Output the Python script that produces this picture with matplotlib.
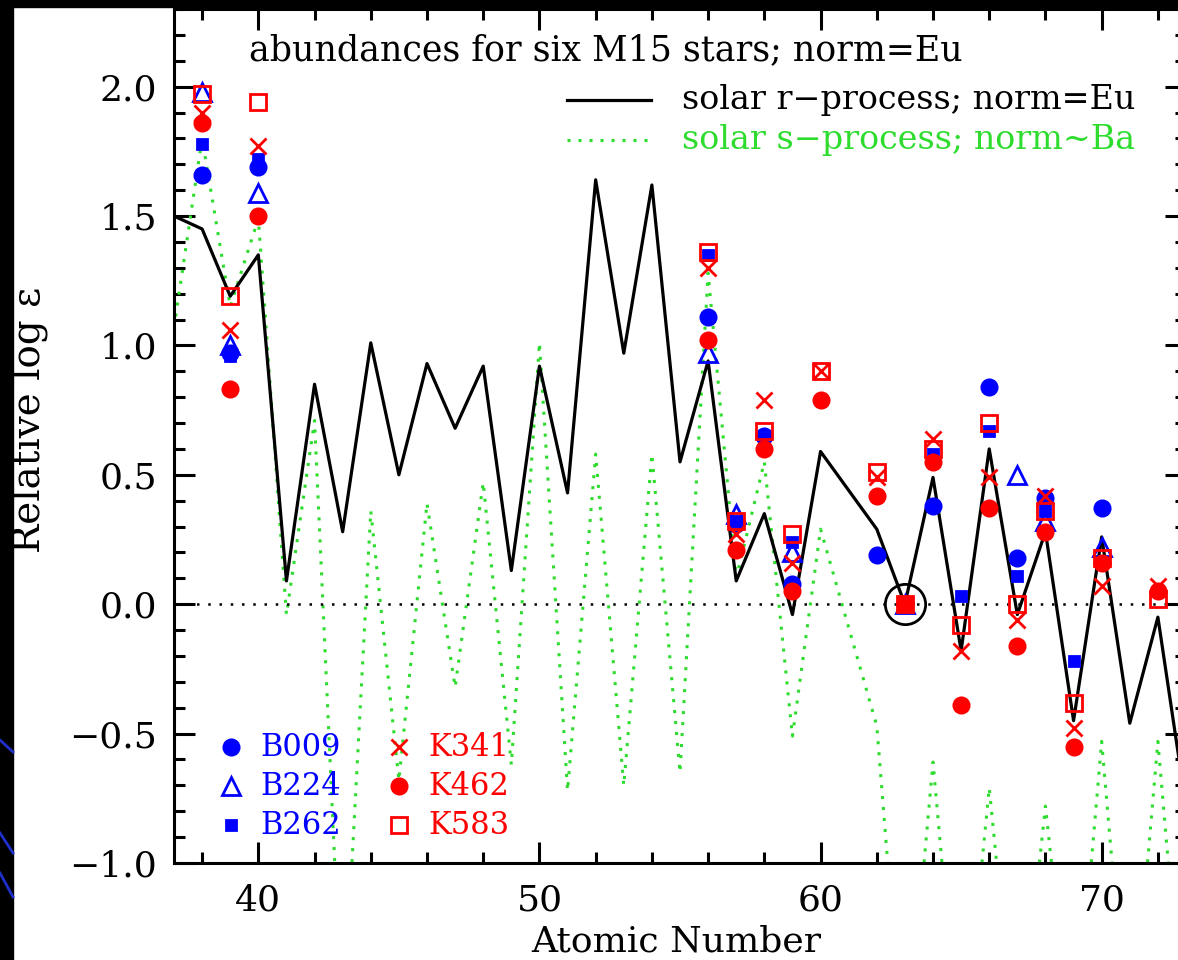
import matplotlib.pyplot as plt
from matplotlib.patches import Rectangle
from matplotlib.lines import Line2D
from matplotlib.ticker import MultipleLocator

plt.rcParams['font.family'] = 'DejaVu Serif'

# solar r-process curve, scaled so that Eu matches (Pm has no point)
r_z = [37, 38, 39, 40, 41, 42, 43, 44, 45, 46, 47, 48, 49, 50, 51, 52, 53, 54,
       55, 56, 57, 58, 59, 60, 62, 63, 64, 65, 66, 67, 68, 69, 70, 71, 72, 73]
r_val = [1.50, 1.45, 1.19, 1.35, 0.09, 0.85, 0.28, 1.01, 0.50, 0.93, 0.68, 0.92,
         0.13, 0.92, 0.43, 1.64, 0.97, 1.62, 0.55, 0.94, 0.09, 0.35, -0.04, 0.59,
         0.29, 0.00, 0.49, -0.18, 0.60, -0.04, 0.28, -0.45, 0.26, -0.46, -0.05, -0.78]

# solar s-process curve, scaled roughly to Ba
s_z = r_z
s_val = [1.07, 1.80, 1.15, 1.49, -0.04, 0.71, -1.67, 0.36, -0.68, 0.39, -0.32, 0.47,
         -0.62, 1.01, -0.72, 0.58, -0.70, 0.58, -0.65, 1.28, 0.10, 0.55, -0.51, 0.29,
         -0.47, -1.83, -0.61, -1.83, -0.71, -1.80, -0.78, -1.80, -0.53, -1.80, -0.53, -1.80]

# star abundances relative to Eu
b009_z = [38, 39, 40, 56, 57, 58, 59, 62, 63, 64, 66, 67, 68, 70]
b009_v = [1.66, 0.97, 1.69, 1.11, 0.31, 0.65, 0.08, 0.19, 0.00, 0.38, 0.84, 0.18, 0.41, 0.37]
b224_z = [38, 39, 40, 56, 57, 59, 63, 67, 68, 70]
b224_v = [1.98, 1.00, 1.59, 0.97, 0.35, 0.20, 0.00, 0.50, 0.32, 0.22]
b262_z = [38, 39, 40, 56, 57, 58, 59, 63, 64, 65, 66, 67, 68, 69]
b262_v = [1.78, 0.96, 1.72, 1.35, 0.32, 0.65, 0.24, 0.00, 0.58, 0.03, 0.67, 0.11, 0.36, -0.22]
k341_z = [38, 39, 40, 56, 57, 58, 59, 60, 62, 63, 64, 65, 66, 67, 68, 69, 70, 72]
k341_v = [1.90, 1.06, 1.77, 1.30, 0.27, 0.79, 0.16, 0.90, 0.49, 0.00, 0.64, -0.18,
          0.49, -0.06, 0.42, -0.48, 0.07, 0.07]
k462_z = [38, 39, 40, 56, 57, 58, 59, 60, 62, 63, 64, 65, 66, 67, 68, 69, 70, 72]
k462_v = [1.86, 0.83, 1.50, 1.02, 0.21, 0.60, 0.05, 0.79, 0.42, 0.00, 0.55, -0.39,
          0.37, -0.16, 0.28, -0.55, 0.16, 0.05]
k583_z = [38, 39, 40, 56, 57, 58, 59, 60, 62, 63, 64, 65, 66, 67, 68, 69, 70, 72]
k583_v = [1.97, 1.19, 1.94, 1.36, 0.32, 0.67, 0.27, 0.90, 0.51, 0.00, 0.60, -0.08,
          0.70, 0.00, 0.36, -0.38, 0.18, 0.02]

BLUE = '#0000ff'
RED = '#ff0000'
GREEN = '#2ddc2d'

W, H = 1178, 960
fig = plt.figure(figsize=(W / 100, H / 100), dpi=100)
fig.patch.set_facecolor('white')
ax = fig.add_axes([174 / W, (H - 863) / H, (1186 - 174) / W, (863 - 9) / H])

ax.plot(s_z, s_val, color=GREEN, lw=2.2, linestyle=(0, (1, 2.6)), zorder=2)
ax.plot(r_z, r_val, color='black', lw=2.3, zorder=3)
ax.axhline(0, color='black', lw=1.8, linestyle=(0, (1, 3.5)), zorder=2)

# the six stars
stars = [
    (b009_z, b009_v, 'o', BLUE, True, 11, 'B009'),
    (b224_z, b224_v, '^', BLUE, False, 12.5, 'B224'),
    (b262_z, b262_v, 's', BLUE, True, 7, 'B262'),
    (k341_z, k341_v, 'x', RED, True, 12, 'K341'),
    (k462_z, k462_v, 'o', RED, True, 11, 'K462'),
    (k583_z, k583_v, 's', RED, False, 12, 'K583'),
]
for z, v, m, c, filled, ms, name in stars:
    ax.plot(z, v, linestyle='none', marker=m, ms=ms, mec=c,
            mfc=c if filled else 'none', mew=2, zorder=4)

# normalising element circled
ax.plot([63], [0.0], marker='o', ms=29, mfc='none', mec='black', mew=2, zorder=5)

ax.set_xlim(37, 73)
ax.set_ylim(-1.0, 2.3)
ax.xaxis.set_major_locator(MultipleLocator(10))
ax.xaxis.set_minor_locator(MultipleLocator(2))
ax.yaxis.set_major_locator(MultipleLocator(0.5))
ax.yaxis.set_minor_locator(MultipleLocator(0.1))
ax.yaxis.set_major_formatter(lambda y, pos: f'{y:.1f}'.replace('-', '\u2212'))
ax.tick_params(which='both', direction='in', top=True, right=True, width=2.2)
ax.tick_params(which='major', length=15, labelsize=26)
ax.tick_params(axis='x', which='major', pad=15)
ax.tick_params(axis='y', which='major', pad=12)
ax.tick_params(which='minor', length=8)
for sp in ax.spines.values():
    sp.set_linewidth(2.2)

ax.text(39.68, 2.104, 'abundances for six M15 stars; norm=Eu', fontsize=25, va='baseline')

# curve key
ax.plot([50.99, 53.97], [1.949, 1.949], color='black', lw=2.3)
ax.plot([50.99, 53.97], [1.794, 1.794], color=GREEN, lw=2.2, linestyle=(0, (1, 2.6)))
ax.text(55.08, 1.949, 'solar r\u2212process; norm=Eu', fontsize=24, va='center')
ax.text(55.08, 1.794, 'solar s\u2212process; norm~Ba', fontsize=24, va='center', color=GREEN)

# star key
key_rows = [-0.553, -0.704, -0.855]
for i, (z, v, m, c, filled, ms, name) in enumerate(stars):
    col = i // 3
    y = key_rows[i % 3]
    mx = 39.03 if col == 0 else 45.0
    ax.plot([mx], [y], marker=m, ms=ms, mec=c, mfc=c if filled else 'none', mew=2,
            linestyle='none', zorder=6)
    ax.text(mx + 1.05, y, name, color=c, fontsize=22, va='center', zorder=6)

fig.text(30 / W, 1 - 420 / H, 'Relative log \u03b5', rotation=90, fontsize=28,
         ha='center', va='center')
fig.text(676 / W, 1 - 941 / H, 'Atomic Number', fontsize=26, ha='center', va='center')

# dark frame strips with blue streaks
fig.add_artist(Rectangle((0, 0), 13 / W, 1, transform=fig.transFigure,
                         color='black', zorder=10))
fig.add_artist(Rectangle((0, 1 - 7 / H), 1, 7 / H, transform=fig.transFigure,
                         color='black', zorder=10))
for (x0, y0, x1, y1) in [(0, 740, 13, 752), (0, 833, 13, 853), (0, 873, 13, 897)]:
    fig.add_artist(Line2D([x0 / W, x1 / W], [1 - y0 / H, 1 - y1 / H],
                          transform=fig.transFigure, color='#1f2fcc', lw=2, zorder=11))

fig.savefig('out.png', dpi=100)
